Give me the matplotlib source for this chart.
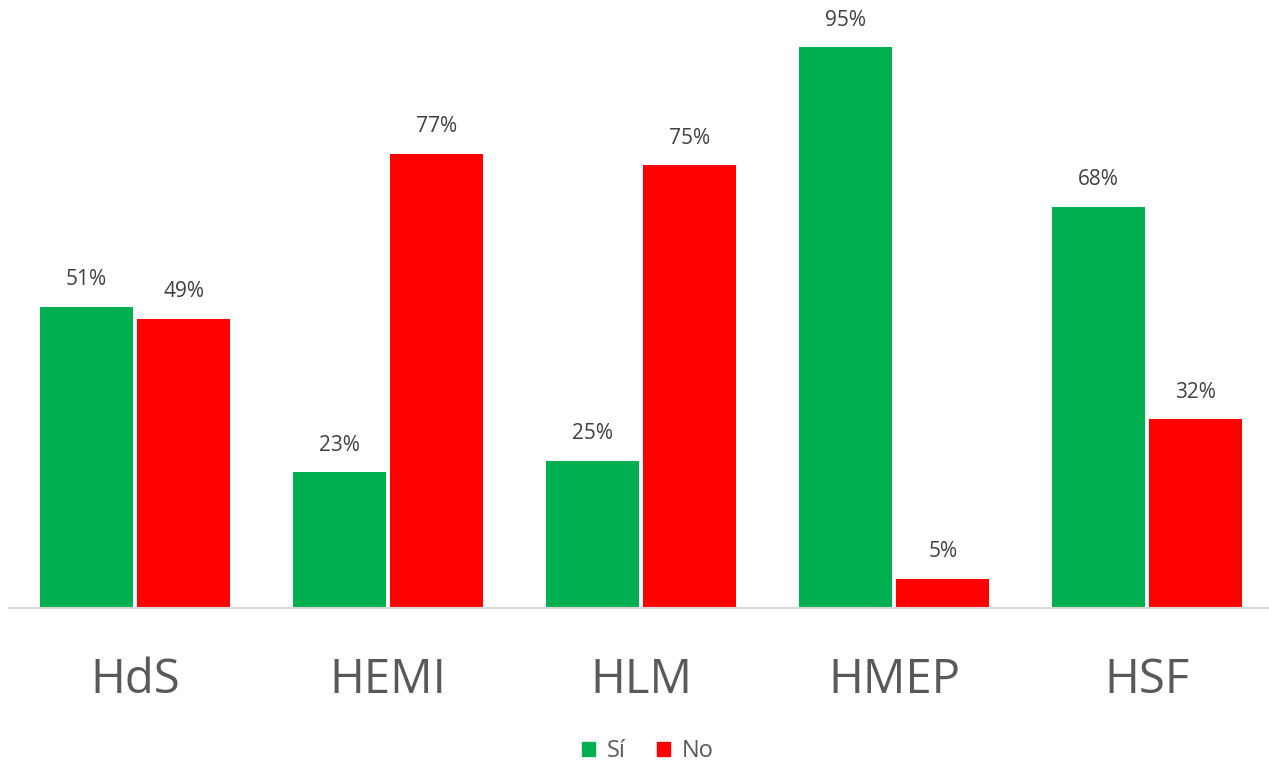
import numpy as np
import matplotlib
matplotlib.use('Agg')
import matplotlib.pyplot as plt
from matplotlib.patches import Patch

categories = ['HdS', 'HEMI', 'HLM', 'HMEP', 'HSF']
si_values = [51, 23, 25, 95, 68]
no_values = [49, 77, 75, 5, 32]

GREEN = '#00b050'
RED = '#ff0000'

plt.rcParams['font.family'] = ['Open Sans', 'DejaVu Sans']

fig = plt.figure(figsize=(12.69, 7.67), dpi=100)
ax = fig.add_axes([8.5 / 1269, 1 - 608 / 767, 1265 / 1269, 590 / 767])

x = np.arange(len(categories))
width = 0.368
off = 0.193
bars_si = ax.bar(x - off, si_values, width, color=GREEN, label='Sí')
bars_no = ax.bar(x + off, no_values, width, color=RED, label='No')

# percentage labels above each bar
for bars, vals in ((bars_si, si_values), (bars_no, no_values)):
    for b, v in zip(bars, vals):
        ax.annotate(f'{v}%', (b.get_x() + b.get_width() / 2, v),
                    xytext=(0, 12), textcoords='offset points',
                    ha='center', va='bottom', fontsize=15, color='#404040')

ax.set_xlim(-0.5, len(categories) - 0.5)
ax.set_ylim(0, 100)
ax.set_xticks(x)
ax.set_xticklabels(categories, fontsize=34, color='#595959')
ax.tick_params(axis='x', length=0, pad=35)
ax.set_yticks([])
for side in ('top', 'right', 'left'):
    ax.spines[side].set_visible(False)
ax.spines['bottom'].set_color('#d9d9d9')
ax.spines['bottom'].set_linewidth(1.5)

handles = [Patch(color=GREEN, label='Sí'), Patch(color=RED, label='No')]
fig.legend(handles=handles, loc='center', bbox_to_anchor=(648 / 1269, 1 - 751 / 767),
           ncol=2, frameon=False, fontsize=17, labelcolor='#595959',
           handlelength=0.55, handleheight=0.55, handletextpad=0.5, columnspacing=1.3)

fig.savefig('out.png', dpi=100, facecolor='white')
